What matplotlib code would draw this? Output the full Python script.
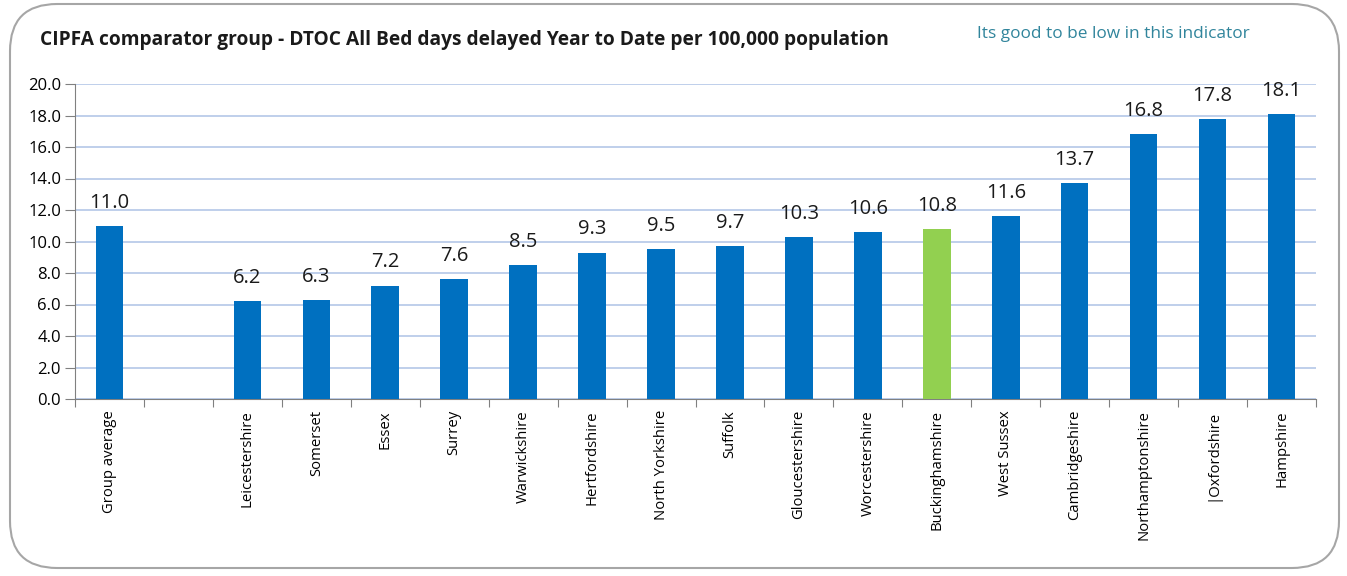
import matplotlib
matplotlib.use("Agg")
import matplotlib.pyplot as plt
from matplotlib.patches import FancyBboxPatch

categories = ["Group average", "", "Leicestershire", "Somerset", "Essex", "Surrey",
              "Warwickshire", "Hertfordshire", "North Yorkshire", "Suffolk",
              "Gloucestershire", "Worcestershire", "Buckinghamshire", "West Sussex",
              "Cambridgeshire", "Northamptonshire", "|Oxfordshire", "Hampshire"]
values = [11.0, None, 6.2, 6.3, 7.2, 7.6, 8.5, 9.3, 9.5, 9.7, 10.3, 10.6, 10.8,
          11.6, 13.7, 16.8, 17.8, 18.1]
highlight = "Buckinghamshire"
yticks = [0, 2, 4, 6, 8, 10, 12, 14, 16, 18, 20]

plt.rcParams['font.family'] = ['Open Sans', 'DejaVu Sans']

W, H = 1347, 576
fig = plt.figure(figsize=(W / 100, H / 100), dpi=100)

# rounded border
border = FancyBboxPatch((10 / W, 8 / H), (W - 18) / W, (H - 12) / H,
                        boxstyle="round,pad=0,rounding_size=0.035",
                        transform=fig.transFigure, facecolor="white",
                        edgecolor="#A6A6A6", linewidth=1.5, mutation_aspect=W / H,
                        zorder=-10)
fig.patches.append(border)

ax = fig.add_axes([75 / W, 1 - 399 / H, (1316 - 75) / W, (399 - 84) / H])
ax.set_facecolor("none")

x = list(range(len(categories)))
for i, (c, v) in enumerate(zip(categories, values)):
    if v is None:
        continue
    col = "#92D050" if c == highlight else "#0070C0"
    ax.bar(i, v, width=0.4, color=col, zorder=3)
    ax.text(i, v + 1.15, f"{v:.1f}", ha="center", va="baseline", fontsize=14.5,
            color="#1a1a1a", zorder=4)

ax.set_xlim(-0.5, len(categories) - 0.5)
ax.set_ylim(0, 20)
ax.set_yticks(yticks)
ax.set_yticklabels([f"{t:.1f}" for t in yticks], fontsize=12)
ax.yaxis.grid(True, color="#B4C7E7", linewidth=1.2, zorder=0)
ax.set_axisbelow(True)

ax.set_xticks([i - 0.5 for i in x] + [len(categories) - 0.5])
ax.set_xticklabels([])
ax.set_xticks(x, minor=True)
ax.set_xticklabels(categories, minor=True, rotation=90, fontsize=10.7)
ax.tick_params(axis="x", which="minor", length=0, pad=8)
ax.tick_params(axis="x", which="major", length=6, color="#808080", direction="out")
ax.tick_params(axis="y", length=7, color="#808080", direction="out", pad=3)

for s in ["top", "right"]:
    ax.spines[s].set_visible(False)
ax.spines["left"].set_color("#808080")
ax.spines["bottom"].set_color("#808080")

fig.text(40 / W, 1 - 40 / H, "CIPFA comparator group - DTOC All Bed days delayed Year to Date per 100,000 population",
         fontsize=13.8, fontweight="bold", ha="left", va="center", color="#1a1a1a")
fig.text(1113 / W, 1 - 34 / H, "Its good to be low in this indicator",
         fontsize=12.4, ha="center", va="center", color="#31859C")

fig.savefig("out.png", dpi=100)
